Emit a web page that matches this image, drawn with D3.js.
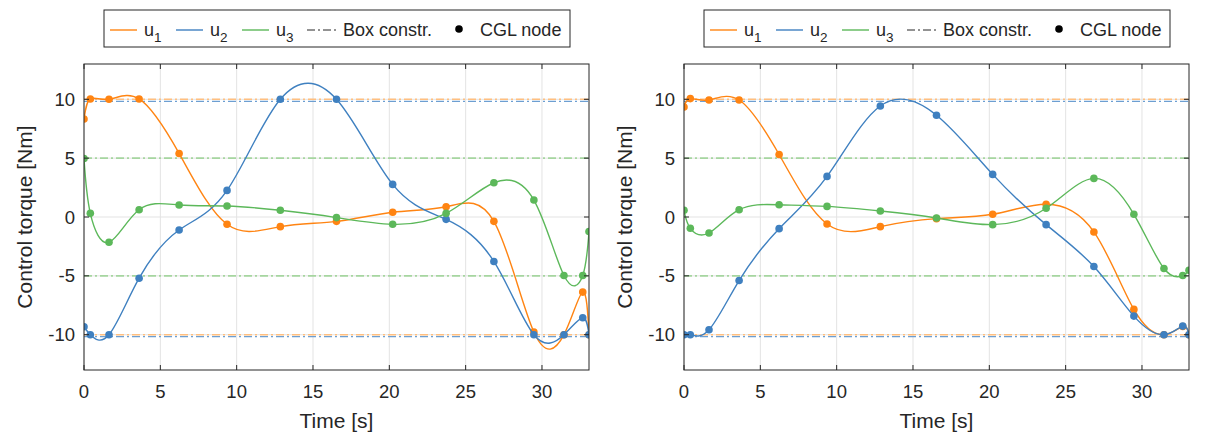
<!DOCTYPE html>
<html>
<head>
<meta charset="utf-8">
<script src="https://cdn.jsdelivr.net/npm/d3@7"></script>
<style>
  body { margin: 0; background: #fff; }
  svg { font-family: "Liberation Sans", Arial, Helvetica, sans-serif; }
</style>
</head>
<body>
<svg id="canvas" width="1207" height="435"></svg>
<script>
// CGL node times [s]
let tNodes = [0, 0.415, 1.638, 3.61, 6.23, 9.37, 12.86, 16.54, 20.22, 23.72, 26.85, 29.47, 31.44, 32.67, 33.08]

// left panel
let u1Left = [8.33, 10.03, 10.0, 10.03, 5.4, -0.62, -0.82, -0.37, 0.4, 0.87, -0.37, -9.77, -10.0, -6.38, -10.0]
let u2Left = [-9.32, -10, -10, -5.2, -1.1, 2.26, 10.0, 10.0, 2.77, -0.2, -3.78, -10, -10, -8.56, -10]
let u3Left = [4.97, 0.31, -2.15, 0.62, 1.02, 0.93, 0.57, -0.05, -0.62, 0.31, 2.91, 1.44, -4.97, -4.97, -1.24]

// right panel
let u1Right = [9.35, 10.06, 9.94, 9.94, 5.31, -0.59, -0.82, -0.14, 0.23, 1.08, -1.27, -7.85, -10, -9.3, -10]
let u2Right = [-10, -10, -9.58, -5.4, -0.99, 3.45, 9.43, 8.64, 3.62, -0.65, -4.21, -8.42, -10, -9.27, -10]
let u3Right = [0.57, -0.96, -1.36, 0.62, 1.04, 0.9, 0.51, -0.08, -0.65, 0.74, 3.28, 0.23, -4.38, -4.97, -4.52]

// box constraints (u1, u2, u3)
let uMax = [10, 10, 5]
let uMin = [-10, -10, -5]

let xTicks = [0, 5, 10, 15, 20, 25, 30]
let yTicks = [-10, -5, 0, 5, 10]
let seriesNames = ['1', '2', '3']

let colors = ['#ff8412', '#3f80c0', '#5cb85a']
let boundColors = ['#ffbf80', '#6d9fd2', '#a6d6a0']

let canvas = d3.select('#canvas')

let drawPanel = (left, series) => {
    let x = d3.scaleLinear().domain([0, tNodes[tNodes.length - 1]]).range([left, left + 505])
    let y = d3.scaleLinear().domain([-13, 13]).range([370, 64])
    let g = canvas.append('g')
    let top = 64, bottom = 370, right = left + 505

    // grid
    g.selectAll('.gx').data(xTicks).enter().append('line')
        .attr('x1', d => x(d)).attr('x2', d => x(d))
        .attr('y1', top).attr('y2', bottom)
        .attr('stroke', '#e3e3e3').attr('stroke-width', 1)
    g.selectAll('.gy').data(yTicks).enter().append('line')
        .attr('x1', left).attr('x2', right)
        .attr('y1', d => y(d)).attr('y2', d => y(d))
        .attr('stroke', '#e3e3e3').attr('stroke-width', 1)

    let clipId = 'clip' + left
    canvas.append('clipPath').attr('id', clipId)
        .append('rect').attr('x', left).attr('y', top).attr('width', 505).attr('height', bottom - top)
    let plot = g.append('g').attr('clip-path', 'url(#' + clipId + ')')

    // box constraints
    let bounds = []
    uMax.forEach((v, i) => bounds.push({ v: v, i: i }))
    uMin.forEach((v, i) => bounds.push({ v: v, i: i }))
    plot.selectAll('.bound').data(bounds).enter().append('line')
        .attr('x1', left).attr('x2', right)
        .attr('y1', d => y(d.v) + (d.i == 1 ? 2 : 0))
        .attr('y2', d => y(d.v) + (d.i == 1 ? 2 : 0))
        .attr('stroke', d => boundColors[d.i])
        .attr('stroke-width', d => d.i == 1 ? 1.2 : 1.6)
        .attr('stroke-dasharray', '8,3,2,3')

    let line = d3.line()
        .x((d, i) => x(tNodes[i]))
        .y(d => y(d))
        .curve(d3.curveNatural)

    series.forEach((s, k) => {
        plot.append('path')
            .attr('d', line(s))
            .attr('fill', 'none')
            .attr('stroke', colors[k])
            .attr('stroke-width', 1.4)
        plot.selectAll('.dot' + k).data(s).enter().append('circle')
            .attr('cx', (d, i) => x(tNodes[i]))
            .attr('cy', d => y(d))
            .attr('r', 3.8)
            .attr('fill', colors[k])
    })

    // box frame
    g.append('rect')
        .attr('x', left).attr('y', top).attr('width', 505).attr('height', bottom - top)
        .attr('fill', 'none').attr('stroke', '#262626').attr('stroke-width', 1)

    // ticks (inside, on all sides)
    xTicks.forEach(t => {
        g.append('line').attr('x1', x(t)).attr('x2', x(t)).attr('y1', bottom).attr('y2', bottom - 5)
            .attr('stroke', '#262626')
        g.append('line').attr('x1', x(t)).attr('x2', x(t)).attr('y1', top).attr('y2', top + 5)
            .attr('stroke', '#262626')
        g.append('text').attr('x', x(t)).attr('y', 398)
            .attr('text-anchor', 'middle').attr('font-size', 18.5).attr('fill', '#262626')
            .text(t)
    })
    yTicks.forEach(t => {
        g.append('line').attr('x1', left).attr('x2', left + 5).attr('y1', y(t)).attr('y2', y(t))
            .attr('stroke', '#262626')
        g.append('line').attr('x1', right).attr('x2', right - 5).attr('y1', y(t)).attr('y2', y(t))
            .attr('stroke', '#262626')
        g.append('text').attr('x', left - 9).attr('y', y(t) + 6.5)
            .attr('text-anchor', 'end').attr('font-size', 18.5).attr('fill', '#262626')
            .text(t)
    })

    // axis labels
    g.append('text').attr('x', (left + right) / 2).attr('y', 428)
        .attr('text-anchor', 'middle').attr('font-size', 21).attr('fill', '#262626')
        .text('Time [s]')
    g.append('text')
        .attr('transform', 'translate(' + (left - 52) + ',' + y(0) + ') rotate(-90)')
        .attr('text-anchor', 'middle').attr('font-size', 21).attr('fill', '#262626')
        .text('Control torque [Nm]')

    // legend
    let lg = g.append('g').attr('transform', 'translate(' + (left + 20) + ',10)')
    lg.append('rect').attr('x', 0).attr('y', 0).attr('width', 466).attr('height', 37)
        .attr('fill', '#fff').attr('stroke', '#262626').attr('stroke-width', 1)
    let lineX = [6, 72, 138]
    seriesNames.forEach((n, k) => {
        lg.append('line').attr('x1', lineX[k]).attr('x2', lineX[k] + 27).attr('y1', 20).attr('y2', 20)
            .attr('stroke', colors[k]).attr('stroke-width', 1.4)
        let txt = lg.append('text').attr('x', lineX[k] + 34).attr('y', 26)
            .attr('font-size', 18).attr('fill', '#262626')
        txt.append('tspan').text('u')
        txt.append('tspan').attr('dy', 6).attr('font-size', 13.5).text(n)
    })
    lg.append('line').attr('x1', 203).attr('x2', 232).attr('y1', 20).attr('y2', 20)
        .attr('stroke', '#262626').attr('stroke-width', 1).attr('stroke-dasharray', '8,3,2,3')
    lg.append('text').attr('x', 239).attr('y', 26).attr('font-size', 18).attr('fill', '#262626')
        .text('Box constr.')
    lg.append('circle').attr('cx', 355).attr('cy', 19).attr('r', 3.8).attr('fill', '#000')
    lg.append('text').attr('x', 376).attr('y', 26).attr('font-size', 18).attr('fill', '#262626')
        .text('CGL node')
}

drawPanel(84, [u1Left, u2Left, u3Left])
drawPanel(684, [u1Right, u2Right, u3Right])
</script>
</body>
</html>
